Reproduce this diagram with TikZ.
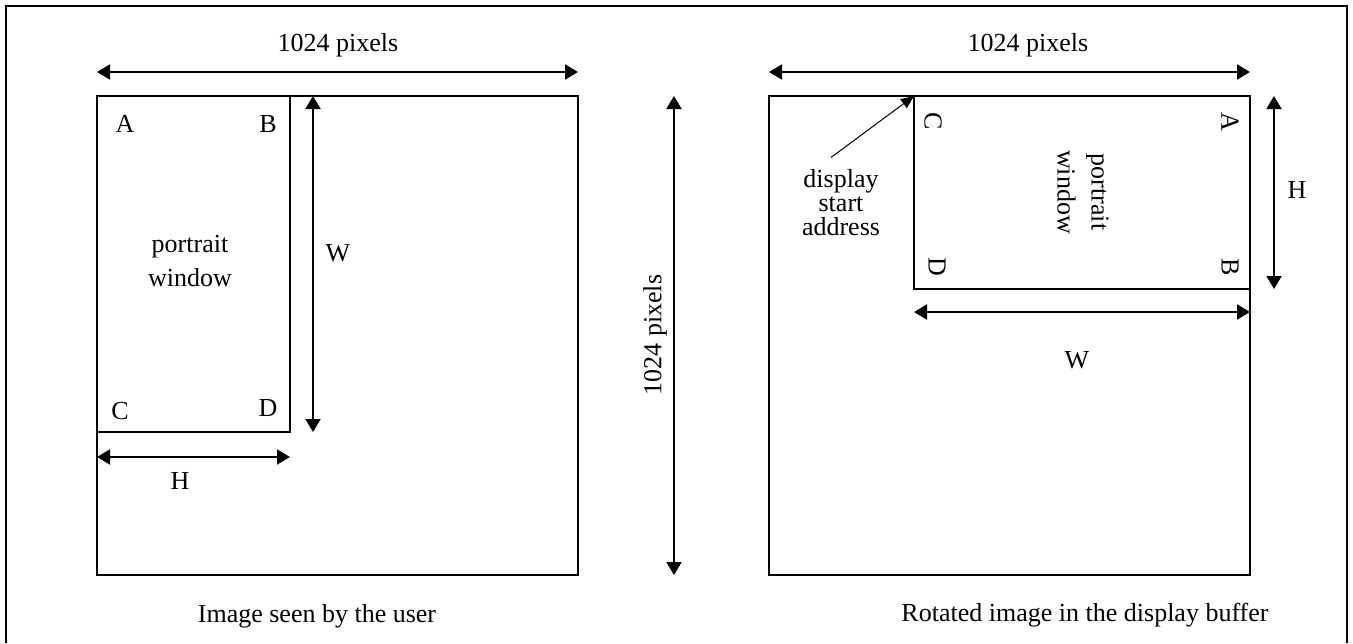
\documentclass[tikz,border=0pt]{standalone}
\usepackage{fontspec}
\setmainfont{Liberation Serif}
\usetikzlibrary{positioning, arrows.meta, calc}

\begin{document}
\begin{tikzpicture}[x=0.5pt, y=-0.5pt, font=\fontsize{13}{15}\selectfont,
       >={Triangle[length=6.5pt, width=7.5pt]},
       frm/.style={draw, line width=1pt},
       dim/.style={<->, line width=1pt},
       lbl/.style={inner sep=1pt},
       rlbl/.style={inner sep=1pt, rotate=-90}]
     \useasboundingbox (0,0) rectangle (1353,643);
     \draw[line width=0.6pt] (6,643) |- (1347,6) -- (1347,643);
     % image seen by the user
     \coordinate (u0) at (97,96);
     \coordinate (u1) at (578,575);
     \coordinate (uw) at (290,432);
     \draw[frm] (u0) rectangle (u1);
     \draw[frm] (u0) rectangle (uw);
     \coordinate (ut0) at (97,72);
     \coordinate (ut1) at (578,72);
     \draw[dim] (ut0) -- (ut1);
     \node[lbl] (utl) at (338,45) {1024 pixels};
     \coordinate (uw0) at (313,96);
     \coordinate (uw1) at (313,432);
     \draw[dim] (uw0) -- (uw1);
     \node[lbl] (uwl) at (338,253) {W};
     \coordinate (uh0) at (97,457);
     \coordinate (uh1) at (290,457);
     \draw[dim] (uh0) -- (uh1);
     \node[lbl] (uhl) at (180,481) {H};
     \node[lbl] (ua) at (125,124) {A};
     \node[lbl] (ub) at (268,124) {B};
     \node[lbl] (uc) at (120,411) {C};
     \node[lbl] (ud) at (268,408) {D};
     \node[lbl, align=center] (upw) at (190,261) {portrait\\[2pt]window};
     \node[lbl] (ucap) at (317,616) {Image seen by the user};
     % vertical size
     \coordinate (v0) at (674,96);
     \coordinate (v1) at (674,575);
     \draw[dim] (v0) -- (v1);
     \node[lbl, rotate=90] (vl) at (655,335) {1024 pixels};
     % rotated image in the display buffer
     \coordinate (r0) at (769,96);
     \coordinate (r1) at (1250,575);
     \coordinate (rw0) at (914,96);
     \coordinate (rw1) at (1250,289);
     \draw[frm] (r0) rectangle (r1);
     \draw[frm] (rw0) rectangle (rw1);
     \coordinate (rt0) at (769,72);
     \coordinate (rt1) at (1250,72);
     \draw[dim] (rt0) -- (rt1);
     \node[lbl] (rtl) at (1028,45) {1024 pixels};
     \coordinate (rh0) at (1274,96);
     \coordinate (rh1) at (1274,289);
     \draw[dim] (rh0) -- (rh1);
     \node[lbl] (rhl) at (1297,190) {H};
     \coordinate (rv0) at (914,312);
     \coordinate (rv1) at (1250,312);
     \draw[dim] (rv0) -- (rv1);
     \node[lbl] (rvl) at (1077,360) {W};
     \node[rlbl] (rc) at (933,121) {C};
     \node[rlbl] (ra) at (1230,122) {A};
     \node[rlbl] (rd) at (937,267) {D};
     \node[rlbl] (rb) at (1230,267) {B};
     \node[rlbl, align=center] (rpw) at (1083,192) {portrait\\[2pt]window};
     \node[lbl, align=center, font=\fontsize{13}{12}\selectfont] (dsa) at (841,203)
        {display\\start\\address};
     \draw[-{Triangle[length=6.5pt, width=5.5pt]}, line width=0.5pt] (dsa.north) ++(-10,-10)
        coordinate (dsa0) (dsa0) -- (rw0);
     \node[lbl] (rcap) at (1085,615) {Rotated image in the display buffer};
   \end{tikzpicture}
\end{document}
